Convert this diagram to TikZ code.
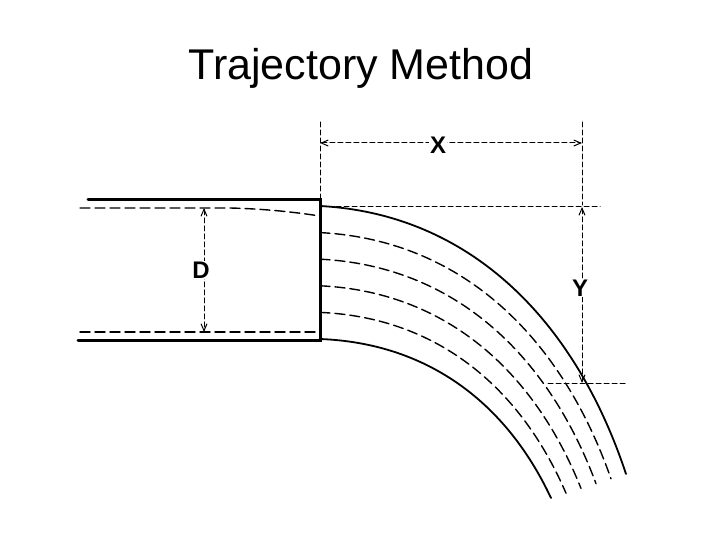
\documentclass[tikz,border=0pt]{standalone}
\usepackage{fontspec}
\setmainfont{Liberation Sans}
\usetikzlibrary{arrows.meta,calc}
\begin{document}
\begin{tikzpicture}[x=1pt, y=-1pt, line cap=round,
  wall/.style={line width=3pt},
  dsh/.style={dashed, dash pattern=on 10pt off 5pt, line width=1.4pt},
  dim/.style={dashed, dash pattern=on 5pt off 3pt, line width=1pt},
  dimarrow/.style={dim, {Straight Barb[length=7pt,width=6pt]}-{Straight Barb[length=7pt,width=6pt]}},
  lbl/.style={font=\bfseries\fontsize{24}{26}\selectfont}]
  \useasboundingbox (0,0) rectangle (720,540);
  % title
  \node[font=\fontsize{43}{48}\selectfont] (title) at (361,68) {Trajectory Method};
  % pipe
  \coordinate (tl) at (88,200);
  \coordinate (tr) at (320,200);
  \coordinate (br) at (320,340);
  \coordinate (bl) at (78,340);
  \draw[wall] (tl) -- (tr) -- (br) -- (bl);
  \draw[dsh] (80,208) -- (230,208) .. controls (270,209) and (300,213) .. (320,216);
  \draw[dsh] (80,332) -- (320,332);
  % jet
  \draw[line width=1.8pt] (320,206) .. controls (470,214) and (575,320) .. (626,474);
  \draw[line width=1.8pt] (320,339) .. controls (425,343) and (505,400) .. (551,498);
  \foreach \t in {0.2,0.4,0.6,0.8}
    \draw[dsh] ($(320,206)!\t!(320,339)$) .. controls ($(470,214)!\t!(425,343)$) and ($(575,320)!\t!(505,400)$) .. ($(626,474)!\t!(551,498)$);
  % dimension D
  \coordinate (d1) at (204,208);
  \coordinate (d2) at (204,332);
  \draw[dimarrow] (d1) -- (d2);
  \node[lbl, fill=white, inner sep=1pt] (D) at (201,270) {D};
  % dimension X
  \draw[dim] (320,122) -- (tr);
  \draw[dim] (582,122) -- (582,205);
  \coordinate (x1) at (320,143);
  \coordinate (x2) at (582,143);
  \draw[dimarrow] (x1) -- (x2);
  \node[lbl, fill=white, inner sep=1pt] (X) at (438,145) {X};
  % dimension Y
  \draw[dim] (320,207) -- (600,207);
  \draw[dim] (548,383) -- (625,383);
  \coordinate (y1) at (582,207);
  \coordinate (y2) at (582,383);
  \draw[dimarrow] (y1) -- (y2);
  \node[lbl, fill=white, inner sep=1pt] (Y) at (580,288) {Y};
\end{tikzpicture}
\end{document}
